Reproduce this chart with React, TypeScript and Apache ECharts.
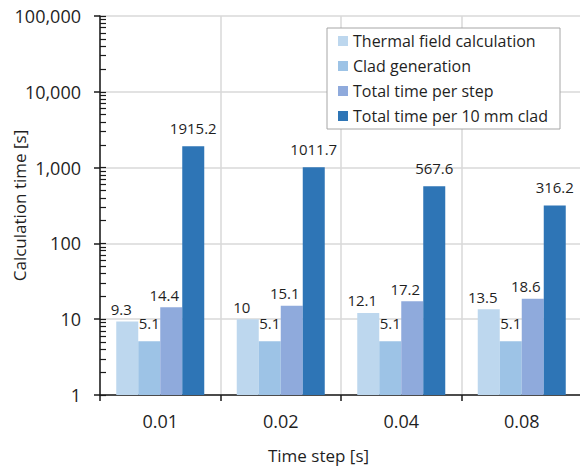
import React, { useEffect, useRef } from "react";
import * as echarts from "echarts";

const categories = ["0.01", "0.02", "0.04", "0.08"];
const seriesNames = [
  "Thermal field calculation",
  "Clad generation",
  "Total time per step",
  "Total time per 10 mm clad",
];
const thermal = [9.3, 10, 12.1, 13.5];
const clad = [5.1, 5.1, 5.1, 5.1];
const perStep = [14.4, 15.1, 17.2, 18.6];
const per10mm = [1915.2, 1011.7, 567.6, 316.2];
const colors = ["#BDD7EE", "#9DC3E6", "#8FAADC", "#2E75B6"];

const FONT = "Open Sans";
const TXT = "#1f1f1f";

export default function App() {
  const ref = useRef<HTMLDivElement>(null);
  useEffect(() => {
    if (!ref.current) return;
    const chart = echarts.init(ref.current, null, { renderer: "svg" });
    const minorTicks: number[] = [];
    for (let d = 0; d <= 5; d++) {
      minorTicks.push(d);
      if (d < 5) for (let k = 2; k <= 9; k++) minorTicks.push(d + Math.log10(k));
    }
    const data = [thermal, clad, perStep, per10mm];
    const labelCfg = [
      { distance: 5, offset: [-6, 0] },
      { distance: 11, offset: [0, 0] },
      { distance: 5, offset: [-7, 0] },
      { distance: 11, offset: [0, 0] },
    ];
    chart.setOption({
      animation: false,
      textStyle: { fontFamily: FONT, color: TXT },
      grid: {
        left: 100,
        top: 16,
        width: 482,
        height: 379,
        containLabel: false,
        outerBoundsMode: "none",
      },
      legend: {
        orient: "vertical",
        left: 327,
        top: 28,
        padding: [5, 12, 5, 11],
        itemGap: 9,
        itemWidth: 10,
        itemHeight: 10,
        icon: "rect",
        backgroundColor: "#ffffff",
        borderColor: "#a6a6a6",
        borderWidth: 1,
        textStyle: { fontFamily: FONT, fontSize: 16, color: TXT },
        data: seriesNames,
      },
      xAxis: {
        type: "category",
        data: categories,
        boundaryGap: true,
        name: "Time step [s]",
        nameLocation: "middle",
        nameGap: 52,
        nameMoveOverlap: false,
        nameTextStyle: { fontFamily: FONT, fontSize: 17, color: TXT, padding: [0, 45, 0, 0] },
        axisLine: { lineStyle: { color: "#1a1a1a", width: 1.5 } },
        axisTick: { show: true, length: 6, lineStyle: { color: "#1a1a1a", width: 1.5 } },
        axisLabel: { fontFamily: FONT, fontSize: 18, color: TXT, margin: 17 },
        splitLine: { show: true, lineStyle: { color: "#d9d9d9", width: 1.5 } },
      },
      yAxis: [
        {
          type: "log",
          logBase: 10,
          min: 1,
          max: 100000,
          splitNumber: 5,
          name: "Calculation time [s]",
          nameLocation: "middle",
          nameGap: 72,
          nameMoveOverlap: false,
          nameTextStyle: { fontFamily: FONT, fontSize: 17, color: TXT },
          axisLine: { show: true, lineStyle: { color: "#1a1a1a", width: 1.5 } },
          axisTick: { show: true, length: 6, lineStyle: { color: "#1a1a1a", width: 1.5 } },
          axisLabel: {
            fontFamily: FONT,
            fontSize: 18,
            color: TXT,
            margin: 19,
            formatter: (v: number) => Math.round(v).toLocaleString("en-US"),
          },
          splitLine: { show: true, lineStyle: { color: "#d9d9d9", width: 1.5 } },
        },
        {
          type: "value",
          min: 0,
          max: 5,
          position: "left",
          offset: 0,
          axisLine: { show: false },
          axisLabel: { show: false },
          splitLine: { show: false },
          axisTick: {
            show: true,
            inside: true,
            length: 6,
            customValues: minorTicks,
            lineStyle: { color: "#1a1a1a", width: 1.2 },
          },
        },
      ],
      series: data.map((vals, i) => ({
        name: seriesNames[i],
        type: "bar",
        yAxisIndex: 0,
        data: vals,
        barWidth: 22,
        barGap: "0%",
        itemStyle: { color: colors[i] },
        label: {
          show: true,
          position: "top",
          distance: labelCfg[i].distance,
          offset: labelCfg[i].offset,
          fontFamily: FONT,
          fontSize: 15,
          color: TXT,
        },
      })),
    });
    return () => chart.dispose();
  }, []);
  return (
    <div
      ref={ref}
      style={{ position: "fixed", left: 0, top: 0, width: 580, height: 467, background: "#fff" }}
    />
  );
}
